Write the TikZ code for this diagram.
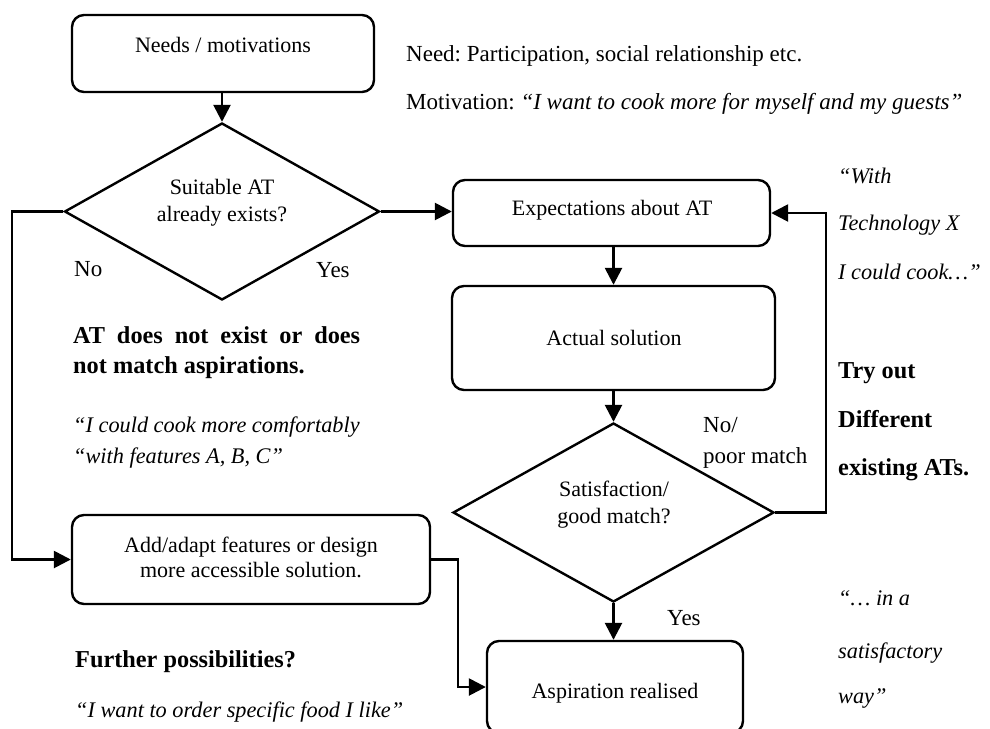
\documentclass[tikz,border=0pt]{standalone}
\usepackage{fontspec}
\setmainfont{Liberation Serif}
\usetikzlibrary{arrows.meta,shapes.geometric}
\newcommand{\fsz}[1]{\fontsize{#1}{#1}\selectfont}
\frenchspacing
\begin{document}
\begin{tikzpicture}[x=1pt,y=-1pt,
  box/.style={draw, rounded corners=12pt, inner sep=0pt, line width=2.4pt},
  dia/.style={draw, diamond, inner sep=0pt, line width=2.4pt},
  arr/.style={-{Triangle[length=17pt,width=17pt]}, line width=2.6pt},
  btxt/.style={font=\fsz{22}, inner sep=0pt, anchor=base},
  lbl/.style={font=\fsz{23}, inner sep=0pt, anchor=base west},
  tms/.style={font=\fsz{23}, inner sep=0pt, anchor=base west},
  itx/.style={font=\fsz{22.3}\itshape, inner sep=0pt, anchor=base west},
  bfx/.style={font=\fsz{24.3}\bfseries, inner sep=0pt, anchor=base west}]
\useasboundingbox (0,0) rectangle (990,728);

% boxes
\node[box, minimum width=302pt, minimum height=77pt] (needs) at (223,53.5) {};
\node[box, minimum width=317pt, minimum height=66pt] (expect) at (611.5,213) {};
\node[box, minimum width=323pt, minimum height=104pt] (actual) at (613.5,338) {};
\node[box, minimum width=358pt, minimum height=89pt] (add) at (251,559.5) {};
\node[box, minimum width=256pt, minimum height=92pt] (aspir) at (615,687) {};
% diamonds
\node[dia, minimum width=315pt, minimum height=177pt] (d1) at (222,211.5) {};
\node[dia, minimum width=321pt, minimum height=179pt] (d2) at (613.5,512.5) {};

% texts in shapes
\node[btxt] (tNeeds) at (223,52) {Needs / motivations};
\node[btxt] (tD1a) at (222,194) {Suitable AT};
\node[btxt] (tD1b) at (222,221) {already exists?};
\node[btxt] (tExp) at (612,215) {Expectations about AT};
\node[btxt] (tAct) at (614,345) {Actual solution};
\node[btxt] (tD2a) at (614,496) {Satisfaction/};
\node[btxt] (tD2b) at (614,523) {good match?};
\node[btxt] (tAdda) at (251,552) {Add/adapt features or design};
\node[btxt] (tAddb) at (251,577) {more accessible solution.};
\node[btxt] (tAsp) at (615,698) {Aspiration realised};

% connector labels
\node[lbl] (lNo) at (74,276) {No};
\node[lbl] (lYes) at (316,277) {Yes};
\node[lbl] (lNo2a) at (703,432) {No/};
\node[lbl] (lNo2b) at (703,463) {poor match};
\node[lbl] (lYes2) at (667,625) {Yes};

% top right texts
\node[tms] (tNeed) at (406,61) {Need: Participation, social relationship etc.};
\node[tms] (tMot) at (406,109) {Motivation: \textit{“I want to cook more for myself and my guests”}};

% left texts
\node[bfx] (tL1) at (73,343) {\makebox[287pt][s]{AT does not exist or does}};
\node[bfx] (tL2) at (73,373) {not match aspirations.};
\node[itx] (tL3) at (73,432) {“I could cook more comfortably};
\node[itx] (tL4) at (73,463) {“with features A, B, C”};
\node[bfx] (tL5) at (75,667) {Further possibilities?};
\node[itx] (tL6) at (75,717) {“I want to order specific food I like”};

% right column
\node[itx] (tR1) at (838,183) {“With};
\node[itx] (tR2) at (838,230) {Technology X};
\node[itx] (tR3) at (838,279) {I could cook…”};
\node[bfx] (tR4) at (838,378) {Try out};
\node[bfx] (tR5) at (838,427) {Different};
\node[bfx] (tR6) at (838,475) {existing ATs.};
\node[itx] (tR7) at (838,605) {“… in a};
\node[itx] (tR8) at (838,658) {satisfactory};
\node[itx] (tR9) at (838,703) {way”};

% connectors
\coordinate (lft) at (12,211.5);
\coordinate (fbR) at (826,512.5);
\coordinate (mid) at (458,559.5);
\draw[arr] (d1.north |- needs.south) -- (d1.north);
\draw[arr] (d1.east) -- (d1.east -| expect.west);
\draw[arr] (d1.west) -- (lft) |- (add.west);
\draw[arr] (actual.north |- expect.south) -- (actual.north);
\draw[arr] (actual.south) -- (d2.north);
\draw[arr] (d2.south) -- (d2.south |- aspir.north);
\draw[arr] (d2.east) -- (fbR) |- (expect.east);
\draw[arr] (add.east) -- (mid) |- (aspir.west);
\end{tikzpicture}
\end{document}
